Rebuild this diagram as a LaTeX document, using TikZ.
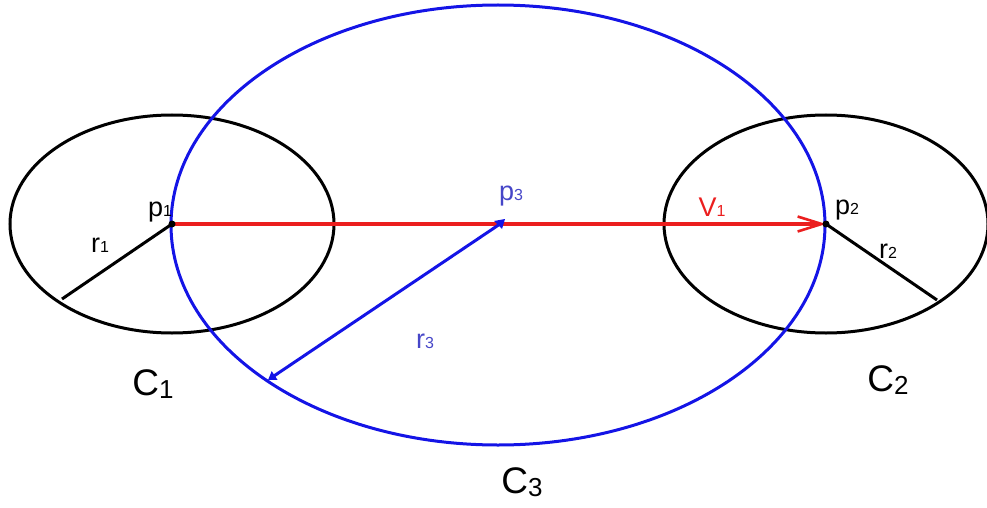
\documentclass[tikz,border=0pt]{standalone}
\usepackage{fontspec}
\setmainfont{Liberation Sans}
\usetikzlibrary{arrows.meta}
\definecolor{myblue}{RGB}{20,20,230}
\definecolor{myred}{RGB}{235,30,30}
\definecolor{lblue}{RGB}{70,70,200}
\newcommand{\smsub}[1]{{\fontsize{16}{17}\selectfont #1}}
\newcommand{\bigsub}[1]{\raisebox{-3pt}{\fontsize{26}{28}\selectfont #1}}
\begin{document}
\begin{tikzpicture}[x=1pt,y=-1pt,
  circ/.style={line width=3pt},
  bcirc/.style={line width=3pt,draw=myblue},
  lbl/.style={inner sep=0pt,font=\fontsize{27}{29}\selectfont},
  big/.style={inner sep=0pt,font=\fontsize{37}{40}\selectfont}]
\useasboundingbox (0,0) rectangle (987,508);
\coordinate (p1) at (172,224);
\coordinate (p2) at (826,224);
\coordinate (p3) at (500,224);
\coordinate (e1) at (62,299);
\coordinate (e2) at (937,300);
\coordinate (e3) at (268,380);
% ellipses
\draw[circ] (p1) ellipse [x radius=162, y radius=109];
\draw[circ] (p2) ellipse [x radius=162, y radius=109];
\draw[bcirc] (498,225) ellipse [x radius=327, y radius=220];
% radii
\draw[line width=3pt] (p1) -- (e1);
\draw[line width=3pt] (p2) -- (e2);
% vector
\draw[line width=3.2pt,myred,-{Straight Barb[length=24pt,width=15pt,line width=2.6pt]}] (p1) -- (p2);
\draw[line width=3pt,myblue,-{Triangle[length=8pt,width=10pt]}] (p3) -- (e3);
\fill[myblue] (p3) ++(-6,-3) -- ++(11,-2) -- ++(-3,10) -- cycle;
\fill (p1) circle (3.5pt);
\fill (p2) circle (3.5pt);
% labels
\node[lbl] (lp1) at (160,212) {p\smsub{1}};
\node[lbl] (lr1) at (100,245) {r\smsub{1}};
\node[lbl] (lp2) at (847,210) {p\smsub{2}};
\node[lbl] (lr2) at (888,251) {r\smsub{2}};
\node[lbl,text=lblue] (lp3) at (511,196) {p\smsub{3}};
\node[lbl,text=lblue] (lr3) at (425,341) {r\smsub{3}};
\node[lbl,text=myred] (lv1) at (712,207) {V\smsub{1}};
\node[big] (lc1) at (153,384) {C\bigsub{1}};
\node[big] (lc2) at (888,380) {C\bigsub{2}};
\node[big] (lc3) at (522,482) {C\bigsub{3}};
\end{tikzpicture}
\end{document}
